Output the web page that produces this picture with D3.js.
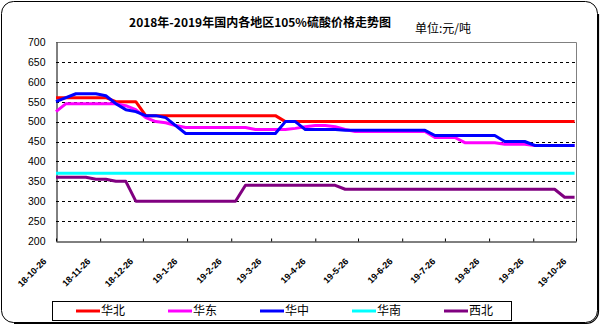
<!DOCTYPE html>
<html>
<head>
<meta charset="utf-8">
<script src="https://cdn.jsdelivr.net/npm/d3@7"></script>
<style>
  body { margin: 0; background: #fff; }
  svg { display: block; }
</style>
</head>
<body>
<svg id="chart" width="600" height="326"></svg>
<script>
// Weekly quotation dates (Fridays)
const weekDates = [
  "2018-10-26","2018-11-02","2018-11-09","2018-11-16","2018-11-23","2018-11-30",
  "2018-12-07","2018-12-14","2018-12-21","2018-12-28","2019-01-04","2019-01-11",
  "2019-01-18","2019-01-25","2019-02-01","2019-02-08","2019-02-15","2019-02-22",
  "2019-03-01","2019-03-08","2019-03-15","2019-03-22","2019-03-29","2019-04-05",
  "2019-04-12","2019-04-19","2019-04-26","2019-05-03","2019-05-10","2019-05-17",
  "2019-05-24","2019-05-31","2019-06-07","2019-06-14","2019-06-21","2019-06-28",
  "2019-07-05","2019-07-12","2019-07-19","2019-07-26","2019-08-02","2019-08-09",
  "2019-08-16","2019-08-23","2019-08-30","2019-09-06","2019-09-13","2019-09-20",
  "2019-09-27","2019-10-04","2019-10-11","2019-10-18","2019-10-25"
];

// Month marks on the time axis
const monthTicks = [
  "2018-10-26","2018-11-26","2018-12-26","2019-01-26","2019-02-26","2019-03-26",
  "2019-04-26","2019-05-26","2019-06-26","2019-07-26","2019-08-26","2019-09-26","2019-10-26"
];

const yTicks = [200, 250, 300, 350, 400, 450, 500, 550, 600, 650, 700];

const regionNames = ["华北", "华东", "华中", "华南", "西北"];
const regionColors = ["#FF0000", "#FF00FF", "#0000FF", "#00FFFF", "#800080"];

// Prices, yuan per tonne
const huabei = [
  560,560,560,560,560,560,550,550,550,515,515,515,515,515,515,515,515,515,
  515,515,515,515,515,500,500,500,500,500,500,500,500,500,500,500,500,500,
  500,500,500,500,500,500,500,500,500,500,500,500,500,500,500,500,500
];
const huadong = [
  525,545,545,545,545,545,545,540,530,510,500,497,490,485,485,485,485,485,
  485,485,480,480,480,480,483,487,490,490,487,480,475,475,475,475,475,475,
  475,475,460,460,460,447,447,447,447,443,443,443,440,440,440,440,440
];
const huazhong = [
  550,560,570,570,570,565,545,530,525,515,515,510,490,470,470,470,470,470,
  470,470,470,470,470,500,500,480,480,480,480,478,478,478,478,478,478,478,
  478,478,465,465,465,465,465,465,465,450,450,450,440,440,440,440,440
];
const huanan = [
  370,370,370,370,370,370,370,370,370,370,370,370,370,370,370,370,370,370,
  370,370,370,370,370,370,370,370,370,370,370,370,370,370,370,370,370,370,
  370,370,370,370,370,370,370,370,370,370,370,370,370,370,370,370,370
];
const xibei = [
  360,360,360,360,355,355,350,350,300,300,300,300,300,300,300,300,300,300,
  300,340,340,340,340,340,340,340,340,340,340,330,330,330,330,330,330,330,
  330,330,330,330,330,330,330,330,330,330,330,330,330,330,330,310,310
];

const seriesValues = [huabei, huadong, huazhong, huanan, xibei];

const parse = d3.timeParse("%Y-%m-%d");
const dates = weekDates.map(parse);
const tickDates = monthTicks.map(parse);

const svg = d3.select("#chart");
const plot = { left: 56, right: 576, top: 42, bottom: 241 };

const x = d3.scaleTime()
  .domain([tickDates[0], tickDates[tickDates.length - 1]])
  .range([plot.left, plot.right]);
const y = d3.scaleLinear()
  .domain([200, 700])
  .range([plot.bottom, plot.top]);

// Outer frame with rounded corners and a slight shadow
svg.append("rect")
  .attr("x", 1.5).attr("y", 1.5)
  .attr("width", 596).attr("height", 321)
  .attr("rx", 12).attr("ry", 12)
  .attr("fill", "#fff").attr("stroke", "#000").attr("stroke-width", 1);
svg.append("path")
  .attr("d", "M598.5,14 V311 A12.5,12.5 0 0 1 586,323.5 H14")
  .attr("fill", "none").attr("stroke", "#000").attr("stroke-width", 1.2);

// Titles
svg.append("text")
  .attr("x", 260).attr("y", 27)
  .attr("text-anchor", "middle")
  .attr("font-family", "'Noto Sans CJK SC', sans-serif")
  .attr("font-size", 12).attr("font-weight", "bold")
  .text("2018年-2019年国内各地区105%硫酸价格走势图");
svg.append("text")
  .attr("x", 415).attr("y", 33)
  .attr("font-family", "'Noto Sans CJK SC', sans-serif")
  .attr("font-size", 12)
  .text("单位:元/吨");

// Dashed horizontal gridlines
svg.append("g")
  .selectAll("line")
  .data(yTicks.filter(v => v > 200 && v < 700))
  .join("line")
  .attr("x1", plot.left).attr("x2", plot.right)
  .attr("y1", d => Math.round(y(d)) + 0.5).attr("y2", d => Math.round(y(d)) + 0.5)
  .attr("stroke", "#000").attr("stroke-width", 1)
  .attr("stroke-dasharray", "3,3");

// Plot area border (top and right)
svg.append("path")
  .attr("d", `M${plot.left},${plot.top + 0.5} H${plot.right + 0.5} V${plot.bottom}`)
  .attr("fill", "none").attr("stroke", "#808080").attr("stroke-width", 1);

// Y axis
const yAxis = svg.append("g")
  .attr("transform", `translate(${plot.left + 0.5},0)`)
  .call(d3.axisLeft(y).tickValues(yTicks).tickSize(0).tickPadding(11).tickFormat(d3.format("d")));
yAxis.select(".domain").attr("stroke", "#000");
yAxis.selectAll("text")
  .attr("font-family", "'Liberation Sans', Arial, sans-serif")
  .attr("font-size", 10.5).attr("fill", "#000");

// X axis with inward ticks
const xAxis = svg.append("g")
  .attr("transform", `translate(0,${plot.bottom + 0.5})`)
  .call(d3.axisBottom(x).tickValues(tickDates).tickSize(-3).tickSizeOuter(0).tickFormat(""));
xAxis.select(".domain").attr("stroke", "#000");
xAxis.selectAll(".tick line").attr("stroke", "#000");

const fmt = d3.timeFormat("%y-%-m-%d");
svg.append("g")
  .selectAll("text")
  .data(tickDates)
  .join("text")
  .attr("transform", d => `translate(${x(d) - 9},262) rotate(-45)`)
  .attr("text-anchor", "end")
  .attr("font-family", "'Liberation Sans', Arial, sans-serif")
  .attr("font-size", 9).attr("font-weight", "bold")
  .text(d => fmt(d));

// Series lines
const line = d3.line()
  .x((d, i) => x(dates[i]))
  .y(d => y(d));
svg.append("g")
  .selectAll("path")
  .data(seriesValues)
  .join("path")
  .attr("d", d => line(d))
  .attr("fill", "none")
  .attr("stroke", (d, i) => regionColors[i])
  .attr("stroke-width", 3)
  .attr("stroke-linejoin", "round");

// Legend
const legend = svg.append("g");
legend.append("rect")
  .attr("x", 52.5).attr("y", 301.5)
  .attr("width", 459).attr("height", 19)
  .attr("fill", "#fff").attr("stroke", "#000").attr("stroke-width", 1);
const items = legend.selectAll("g.item")
  .data(regionNames)
  .join("g")
  .attr("class", "item")
  .attr("transform", (d, i) => `translate(${76 + i * 92},311)`);
items.append("line")
  .attr("x1", 0).attr("x2", 24)
  .attr("y1", 0).attr("y2", 0)
  .attr("stroke", (d, i) => regionColors[i])
  .attr("stroke-width", 3);
items.append("text")
  .attr("x", 25).attr("y", 0)
  .attr("dy", "0.36em")
  .attr("font-family", "'Noto Sans CJK SC', sans-serif")
  .attr("font-size", 12)
  .text(d => d);
</script>
</body>
</html>
